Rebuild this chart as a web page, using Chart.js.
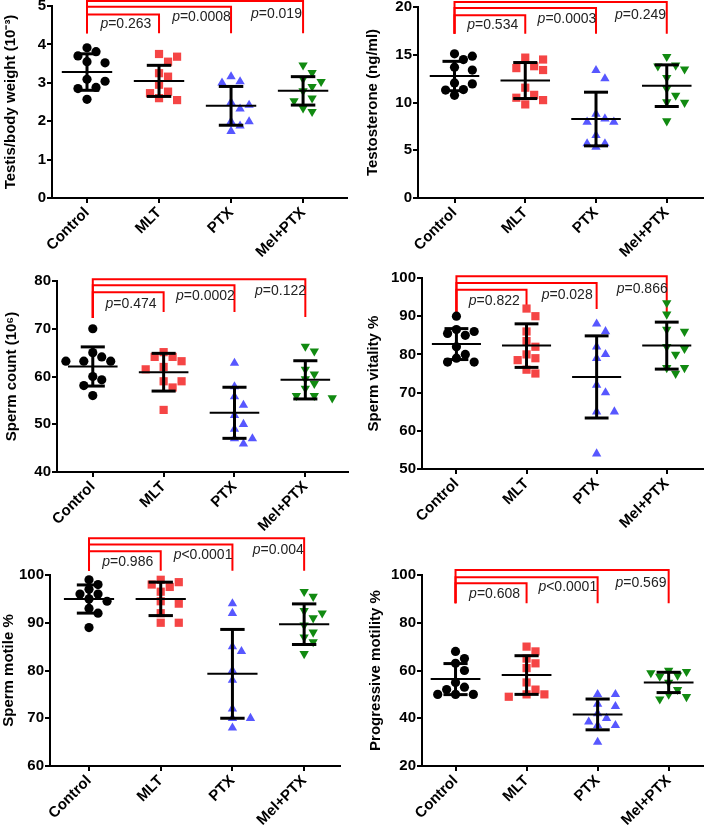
<!DOCTYPE html>
<html><head><meta charset="utf-8">
<script src="https://cdn.jsdelivr.net/npm/chart.js@4.4.1/dist/chart.umd.min.js"></script>
<style>
html,body{margin:0;padding:0;background:#fff;}
body{width:709px;height:826px;position:relative;overflow:hidden;}
canvas{position:absolute;}
</style></head><body>
<canvas id="c1"></canvas><canvas id="c2"></canvas><canvas id="c3"></canvas>
<canvas id="c4"></canvas><canvas id="c5"></canvas><canvas id="c6"></canvas>
<script>
// ---------------- DATA ----------------
const groups = ["Control", "MLT", "PTX", "Mel+PTX"];

// Panel 1: Testis/body weight (10^-3)
const testisControl = [3.91, 3.81, 3.70, 3.55, 3.52, 3.09, 3.04, 2.88, 2.85, 2.57];
const testisMLT     = [3.75, 3.68, 3.55, 3.25, 3.16, 2.95, 2.77, 2.73, 2.60, 2.55];
const testisPTX     = [3.16, 3.03, 3.00, 2.49, 2.42, 2.32, 1.99, 1.99, 1.88, 1.74];
const testisMelPTX  = [3.46, 3.26, 3.10, 3.03, 2.90, 2.79, 2.60, 2.53, 2.34, 2.25];
const testisMean = [3.28, 3.05, 2.40, 2.79];
const testisSD   = [0.475, 0.405, 0.505, 0.37];
const testisP    = ["=0.263", "=0.0008", "=0.019"];
const testisTicks = [0, 1, 2, 3, 4, 5];

// Panel 2: Testosterone (ng/ml)
const testoControl = [15.1, 14.85, 14.5, 13.7, 13.4, 12.05, 11.95, 11.35, 11.3, 10.75];
const testoMLT     = [14.7, 14.5, 13.8, 13.6, 13.4, 11.55, 10.8, 10.5, 10.25, 9.8];
const testoPTX     = [13.37, 12.5, 8.8, 8.3, 7.96, 7.96, 6.56, 5.7, 5.7, 5.34];
const testoMelPTX  = [14.8, 13.9, 13.8, 13.5, 12.6, 11.45, 10.75, 10.05, 10.0, 8.06];
const testoMean = [12.77, 12.30, 8.27, 11.76];
const testoSD   = [1.54, 1.885, 2.81, 2.18];
const testoP    = ["=0.534", "=0.0003", "=0.249"];
const testoTicks = [0, 5, 10, 15, 20];

// Panel 3: Sperm count (10^6)
const countControl = [70.0, 65.0, 64.1, 63.2, 63.2, 63.2, 60.0, 59.3, 58.1, 56.0];
const countMLT     = [65.1, 64.1, 64.1, 63.2, 62.0, 61.5, 59.0, 59.0, 57.7, 53.0];
const countPTX     = [62.8, 57.9, 55.8, 54.0, 51.9, 50.0, 49.0, 47.0, 47.0, 45.9];
const countMelPTX  = [66.3, 65.3, 61.5, 60.5, 59.5, 58.5, 57.5, 56.0, 56.0, 55.5];
const countMean = [62.1, 60.9, 52.4, 59.3];
const countSD   = [4.1, 3.95, 5.35, 4.0];
const countP    = ["=0.474", "=0.0002", "=0.122"];
const countTicks = [40, 50, 60, 70, 80];

// Panel 4: Sperm vitality %
const vitalControl = [90, 86.5, 86, 85.5, 85, 82, 80, 79, 78, 78];
const vitalMLT     = [92, 90, 86, 83.5, 82, 80, 79, 78.5, 76, 75];
const vitalPTX     = [88, 86, 82, 80, 79, 72, 70, 65, 65, 54];
const vitalMelPTX  = [93.5, 90.5, 86.5, 86, 82, 81.5, 80, 76.5, 76.5, 75];
const vitalMean = [82.7, 82.3, 74.1, 82.3];
const vitalSD   = [4.05, 5.7, 10.75, 6.15];
const vitalP    = ["=0.822", "=0.028", "=0.866"];
const vitalTicks = [50, 60, 70, 80, 90, 100];

// Panel 5: Sperm motile %
const motileControl = [99, 98, 97, 96, 96, 95, 94.5, 93, 92, 89];
const motileMLT     = [99, 98.5, 98, 97.5, 96.5, 94.5, 94, 92, 90, 90];
const motilePTX     = [94, 92, 85, 84, 80, 78, 72, 70, 70, 68];
const motileMelPTX  = [96.5, 95.5, 92.5, 92, 91, 89.5, 88, 87, 86, 83.5];
const motileMean = [94.97, 95.0, 79.3, 89.7];
const motileSD   = [2.95, 3.5, 9.3, 4.25];
const motileP    = ["=0.986", "<0.0001", "=0.004"];
const motileTicks = [60, 70, 80, 90, 100];

// Panel 6: Progressive motility %
const progControl = [68, 65, 63, 60, 55, 53, 52, 50, 50, 50];
const progMLT     = [70, 68, 65, 63, 61, 55, 52, 50, 50, 49];
const progPTX     = [50, 50, 46, 45, 42, 40, 38.5, 37, 37, 30];
const progMelPTX  = [60, 59.5, 59, 58, 57.5, 55, 52, 50, 49, 48];
const progMean = [56.4, 58.1, 41.6, 55.0];
const progSD   = [6.5, 8.1, 6.45, 4.25];
const progP    = ["=0.608", "<0.0001", "=0.569"];
const progTicks = [20, 40, 60, 80, 100];

// ---------------- STYLE / LAYOUT ----------------
const FONT = '"Liberation Sans", Arial, Helvetica, sans-serif';
const colors = ["#000000", "#f54545", "#5757ff", "#118a11"];
const styles = ["circle", "rect", "triangle", "triangle"];
const rotations = [0, 0, 0, 180];
const radii = [4.6, 5.8, 5.4, 5.4];

const panels = [
  { id: "c1", left: 0, top: 0, w: 354, h: 270, area: [52, 6, 347, 198], xMin: -0.486, xMax: 3.61,
    title: "Testis/body weight (10\u207B\u00B3)", titleX: 10.5,
    values: [testisControl, testisMLT, testisPTX, testisMelPTX], means: testisMean, sds: testisSD,
    ticks: testisTicks, pv: testisP,
    br: { tops: [4.78, 4.98, 5.13], ends: [4.29, 4.29, 4.29], end0: 4.29 },
    txt: [[0.54, 4.54], [1.59, 4.70], [2.63, 4.80]] },
  { id: "c2", left: 354, top: 0, w: 355, h: 270, area: [64, 7, 353, 198], xMin: -0.516, xMax: 3.515,
    title: "Testosterone (ng/ml)", titleX: 19,
    values: [testoControl, testoMLT, testoPTX, testoMelPTX], means: testoMean, sds: testoSD,
    ticks: testoTicks, pv: testoP,
    br: { tops: [19.13, 19.9, 20.52], ends: [17.2, 17.2, 17.2], end0: 17.2 },
    txt: [[0.54, 18.08], [1.59, 18.78], [2.63, 19.13]] },
  { id: "c3", left: 0, top: 270, w: 354, h: 280, area: [57, 11, 350, 202], xMin: -0.505, xMax: 3.605,
    title: "Sperm count (10\u2076)", titleX: 12,
    values: [countControl, countMLT, countPTX, countMelPTX], means: countMean, sds: countSD,
    ticks: countTicks, pv: countP,
    br: { tops: [77.63, 79.09, 80.35], ends: [73.5, 73.5, 72.46], end0: 72.25 },
    txt: [[0.54, 75.25], [1.59, 76.8], [2.65, 77.9]] },
  { id: "c4", left: 354, top: 270, w: 355, h: 280, area: [68, 8, 354, 199], xMin: -0.491, xMax: 3.52,
    title: "Sperm vitality %", titleX: 20,
    values: [vitalControl, vitalMLT, vitalPTX, vitalMelPTX], means: vitalMean, sds: vitalSD,
    ticks: vitalTicks, pv: vitalP,
    br: { tops: [96.95, 98.7, 100.44], ends: [92.1, 91.9, 90.4], end0: 90.8 },
    txt: [[0.54, 94.07], [1.58, 95.6], [2.65, 97.1]] },
  { id: "c5", left: 0, top: 530, w: 354, h: 296, area: [50, 45, 340, 236], xMin: -0.544, xMax: 3.50,
    title: "Sperm motile %", titleX: 8.5,
    values: [motileControl, motileMLT, motilePTX, motileMelPTX], means: motileMean, sds: motileSD,
    ticks: motileTicks, pv: motileP,
    br: { tops: [105.0, 106.4, 107.7], ends: [100.9, 100.9, 100.9], end0: 100.9 },
    txt: [[0.54, 102.6], [1.59, 104.2], [2.64, 105.2]] },
  { id: "c6", left: 354, top: 550, w: 355, h: 276, area: [68, 25, 353, 216], xMin: -0.472, xMax: 3.486,
    title: "Progressive motility %", titleX: 21.5,
    values: [progControl, progMLT, progPTX, progMelPTX], means: progMean, sds: progSD,
    ticks: progTicks, pv: progP,
    br: { tops: [96.5, 99.1, 102.1], ends: [88.2, 88.2, 88.2], end0: 88.2 },
    txt: [[0.55, 92.0], [1.58, 94.8], [2.61, 96.5]] }
];

// simple beeswarm spreading of points (pixel based, like GraphPad scatter)
function swarm(vals, pxX, pxY, D) {
  const order = vals.map((v, i) => i).sort((a, b) => vals[b] - vals[a]);
  const placed = [];
  const offs = new Array(vals.length).fill(0);
  const step = D * 0.95;
  order.forEach(idx => {
    const py = vals[idx] * pxY;
    for (let k = 0; k < 20; k++) {
      const n = Math.ceil(k / 2) * (k % 2 === 1 ? 1 : -1);
      const ox = n * step;
      let ok = true;
      for (const p of placed) {
        const dx = ox - p[0], dy = py - p[1];
        if (dx * dx + dy * dy < D * D) { ok = false; break; }
      }
      if (ok) { offs[idx] = ox / pxX; placed.push([ox, py]); break; }
    }
  });
  return offs;
}

function lineDs(pts, w, col, order) {
  return { data: pts, showLine: true, borderColor: col, borderWidth: w, pointRadius: 0,
    pointHoverRadius: 0, fill: false, order: order, clip: false, tension: 0,
    borderCapStyle: "butt", borderJoinStyle: "miter" };
}

function makePanel(cfg) {
  const canvas = document.getElementById(cfg.id);
  canvas.width = cfg.w; canvas.height = cfg.h;
  canvas.style.left = cfg.left + "px"; canvas.style.top = cfg.top + "px";
  canvas.style.width = cfg.w + "px"; canvas.style.height = cfg.h + "px";
  const yMin = cfg.ticks[0], yMax = cfg.ticks[cfg.ticks.length - 1];
  const yStep = cfg.ticks[1] - cfg.ticks[0];
  const areaW = cfg.area[2] - cfg.area[0], areaH = cfg.area[3] - cfg.area[1];
  const pxX = areaW / (cfg.xMax - cfg.xMin), pxY = areaH / (yMax - yMin);

  const datasets = [];
  // mean +/- SD bars (on top)
  cfg.means.forEach((m, i) => {
    const s = cfg.sds[i];
    datasets.push(lineDs([{ x: i - 0.35, y: m }, { x: i + 0.35, y: m }], 2, "#000", 0));
    datasets.push(lineDs([{ x: i, y: m - s }, { x: i, y: m + s }], 3, "#000", 0));
    datasets.push(lineDs([{ x: i - 0.17, y: m + s }, { x: i + 0.17, y: m + s }], 3, "#000", 0));
    datasets.push(lineDs([{ x: i - 0.17, y: m - s }, { x: i + 0.17, y: m - s }], 3, "#000", 0));
  });
  // individual points
  cfg.values.forEach((vals, i) => {
    const offs = swarm(vals, pxX, pxY, 9.5);
    datasets.push({
      data: vals.map((v, k) => ({ x: i + offs[k], y: v })),
      pointStyle: styles[i], rotation: rotations[i], pointRadius: radii[i], pointHoverRadius: radii[i],
      backgroundColor: colors[i], borderColor: colors[i], borderWidth: 0, showLine: false, order: 1, clip: false
    });
  });
  // significance brackets (Control vs MLT / PTX / Mel+PTX)
  [1, 2, 3].forEach((g, j) => {
    const top = cfg.br.tops[j];
    datasets.push(lineDs([{ x: 0, y: cfg.br.end0 }, { x: 0, y: top }, { x: g, y: top }, { x: g, y: cfg.br.ends[j] }],
      2, "#ff0000", 2));
  });

  const textPlugin = {
    id: "ptext" + cfg.id,
    afterDatasetsDraw(chart) {
      const ctx = chart.ctx, xs = chart.scales.x, ys = chart.scales.y;
      ctx.save();
      ctx.fillStyle = "#222";
      ctx.textBaseline = "middle";
      ctx.textAlign = "left";
      cfg.txt.forEach((t, j) => {
        const px = xs.getPixelForValue(t[0]), py = ys.getPixelForValue(t[1]);
        const fI = "italic 14px " + FONT, fN = "14px " + FONT;
        ctx.font = fI; const w1 = ctx.measureText("p").width;
        ctx.font = fN; const w2 = ctx.measureText(cfg.pv[j]).width;
        const x0 = px - (w1 + w2) / 2;
        ctx.font = fI; ctx.fillText("p", x0, py);
        ctx.font = fN; ctx.fillText(cfg.pv[j], x0 + w1, py);
      });
      ctx.restore();
    }
  };

  const tickFont = { family: FONT, weight: "bold", size: 15 };
  new Chart(canvas, {
    type: "scatter",
    data: { datasets },
    options: {
      responsive: false, animation: false, devicePixelRatio: 1,
      events: [],
      layout: { padding: { left: 0, top: cfg.area[1], right: cfg.w - cfg.area[2], bottom: 0 } },
      plugins: { legend: { display: false }, tooltip: { enabled: false }, title: { display: false } },
      scales: {
        x: {
          type: "linear", min: cfg.xMin, max: cfg.xMax,
          afterBuildTicks: s => { s.ticks = groups.map((g, i) => ({ value: i })); },
          ticks: { autoSkip: false, maxRotation: 45, minRotation: 45, color: "#000", font: tickFont, padding: 1,
            callback: v => groups[v] !== undefined ? groups[v] : "" },
          grid: { display: true, drawOnChartArea: false, drawTicks: true, tickLength: 5, color: "#000", lineWidth: 2 },
          border: { display: true, color: "#000", width: 2 },
          afterFit: s => { s.height = cfg.h - cfg.area[3]; s.paddingLeft = 0; s.paddingRight = 0; }
        },
        y: {
          type: "linear", min: yMin, max: yMax,
          afterBuildTicks: s => { s.ticks = cfg.ticks.map(v => ({ value: v })); },
          ticks: { color: "#000", font: tickFont, padding: 1, stepSize: yStep },
          grid: { display: true, drawOnChartArea: false, drawTicks: true, tickLength: 5, color: "#000", lineWidth: 2 },
          border: { display: true, color: "#000", width: 2 },
          title: { display: true, text: cfg.title, color: "#000",
            font: { family: FONT, weight: "bold", size: 15 }, padding: { top: Math.max(0, cfg.titleX - 9), bottom: 0 } },
          afterFit: s => { s.width = cfg.area[0]; s.paddingTop = 0; s.paddingBottom = 0; }
        }
      }
    },
    plugins: [textPlugin]
  });
}

panels.forEach(makePanel);
</script>
</body></html>
